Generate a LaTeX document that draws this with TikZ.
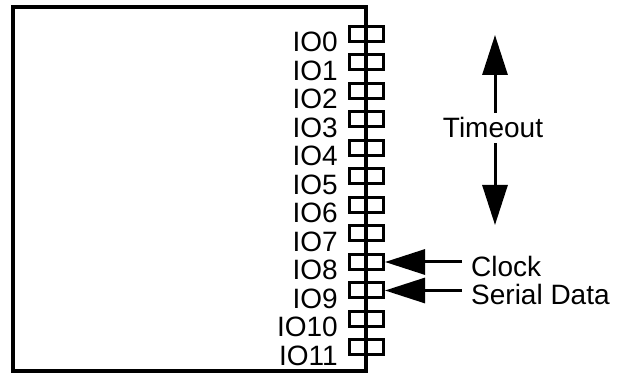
\documentclass[tikz,border=0pt]{standalone}
\usepackage{fontspec}
\setmainfont{Liberation Sans}
\usetikzlibrary{arrows.meta}
\begin{document}
\begin{tikzpicture}[x=1pt,y=-1pt,
  lbl/.style={inner sep=0pt,font=\fontsize{28}{30}\selectfont},
  pinbox/.style={draw,line width=3pt,minimum width=34pt,minimum height=15pt,inner sep=0pt},
  arr/.style={line width=3pt,-{Triangle[length=40pt,width=25pt]}}]
\useasboundingbox (0,0) rectangle (622,374);
% main box
\draw[line width=4pt] (12.5,7) rectangle (366,371.5);
% pins and labels
\foreach \i in {0,...,11}{
  \node[pinbox] (p\i) at (366.5,{34+28.5*\i}) {};
  \node[lbl,anchor=base east] (l\i) at (338,{52+28.5*\i}) {IO\i};
}
\draw[line width=4pt] (366,7) -- (366,371.5);
% timeout
\node[lbl,anchor=base,inner ysep=5pt] (timeout) at (493,138) {Timeout};
\coordinate (tup) at (495,35);
\coordinate (tdown) at (495,225);
\draw[arr] (timeout.north -| tup) -- (tup);
\draw[arr] (timeout.south -| tdown) -- (tdown);
% clock & serial data
\node[lbl,anchor=base west] (clock) at (471,277) {Clock};
\node[lbl,anchor=base west] (sdata) at (471,305) {Serial Data};
\draw[arr] ([xshift=-9pt]clock.west |- p8.east) -- (p8.east);
\draw[arr] ([xshift=-9pt]sdata.west |- p9.east) -- (p9.east);
\end{tikzpicture}
\end{document}
